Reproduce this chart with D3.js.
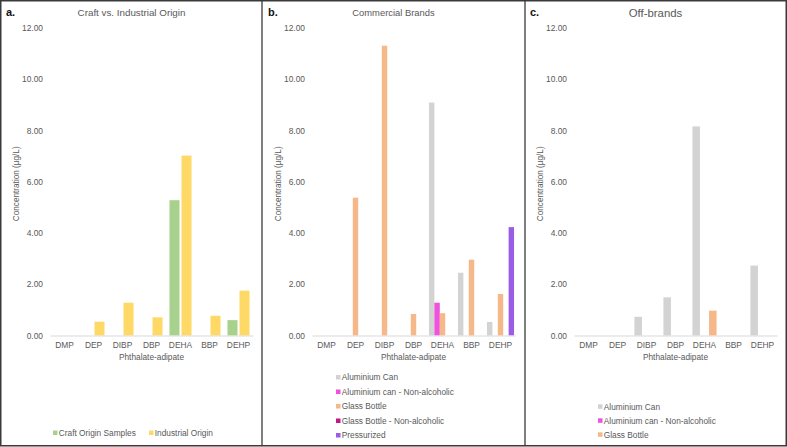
<!DOCTYPE html>
<html>
<head>
<meta charset="utf-8">
<script src="https://cdn.jsdelivr.net/npm/d3@7"></script>
<style>
  html, body { margin: 0; padding: 0; background: #fff; }
  svg { display: block; font-family: "Liberation Sans", Arial, sans-serif; }
</style>
</head>
<body>
<svg id="chart" width="787" height="447"></svg>
<script>
// ---- data ----
const categories = ["DMP", "DEP", "DIBP", "DBP", "DEHA", "BBP", "DEHP"];
const yTicks = [0, 2, 4, 6, 8, 10, 12];

// a. Craft vs. Industrial Origin
const craftOrigin      = [0, 0, 0, 0, 5.28, 0, 0.60];
const industrialOrigin = [0, 0.54, 1.28, 0.71, 7.02, 0.77, 1.75];

// b. Commercial Brands
const commAluminiumCan   = [0, 0, 0, 0, 9.09, 2.45, 0.53];
const commAluminiumCanNA = [0, 0, 0, 0, 1.28, 0, 0];
const commGlassBottle    = [0, 5.38, 11.31, 0.84, 0.87, 2.96, 1.62];
const commGlassBottleNA  = [0, 0, 0, 0, 0, 0, 0];
const commPressurized    = [0, 0, 0, 0, 0, 0, 4.23];

// c. Off-brands
const offAluminiumCan   = [0, 0, 0.73, 1.49, 8.16, 0, 2.73];
const offAluminiumCanNA = [0, 0, 0, 0, 0, 0, 0];
const offGlassBottle    = [0, 0, 0, 0, 0.97, 0, 0];

// ---- styles ----
const COL = {
  craft: "#a9d18e", industrial: "#ffd966",
  alu: "#d3d3d3", aluNA: "#ef52dc", glass: "#f6b889", glassNA: "#c2178c", press: "#9b5de5"
};

const panels = [
  {
    letter: "a.", title: "Craft vs. Industrial Origin", titleSize: 9.8, ox: 0,
    series: [
      { name: "Craft Origin Samples", values: craftOrigin, color: COL.craft },
      { name: "Industrial Origin", values: industrialOrigin, color: COL.industrial }
    ],
    padInner: 0.167, padOuter: 0.29,
    legend: { type: "row", y: 433, xs: [53, 149] }
  },
  {
    letter: "b.", title: "Commercial Brands", titleSize: 9.4, ox: 262,
    series: [
      { name: "Aluminium Can", values: commAluminiumCan, color: COL.alu },
      { name: "Aluminium can - Non-alcoholic", values: commAluminiumCanNA, color: COL.aluNA },
      { name: "Glass Bottle", values: commGlassBottle, color: COL.glass },
      { name: "Glass Bottle - Non-alcoholic", values: commGlassBottleNA, color: COL.glassNA },
      { name: "Pressurized", values: commPressurized, color: COL.press }
    ],
    padInner: 0.0, padOuter: 0.18,
    legend: { type: "col", x: 74, y0: 377.5, dy: 14.5 }
  },
  {
    letter: "c.", title: "Off-brands", titleSize: 11.4, ox: 524,
    series: [
      { name: "Aluminium Can", values: offAluminiumCan, color: COL.alu },
      { name: "Aluminium can - Non-alcoholic", values: offAluminiumCanNA, color: COL.aluNA },
      { name: "Glass Bottle", values: offGlassBottle, color: COL.glass }
    ],
    padInner: 0.094, padOuter: 0.29,
    legend: { type: "col", x: 74, y0: 406.8, dy: 14 }
  }
];

const svg = d3.select("#chart");
const TXT = "#595959";
const plotL = 50, plotR = 253, plotT = 28, plotB = 335.5;

const y = d3.scaleLinear().domain([0, 12]).range([plotB, plotT]);
const x = d3.scaleBand().domain(categories).range([plotL, plotR]).padding(0);

panels.forEach(p => {
  const g = svg.append("g").attr("transform", `translate(${p.ox},0)`);

  // letter + title
  g.append("text").attr("x", 6).attr("y", 16)
    .attr("font-size", 11).attr("font-weight", "bold").attr("fill", "#111").text(p.letter);
  g.append("text").attr("x", 131.5).attr("y", 13).attr("dy", "0.35em")
    .attr("text-anchor", "middle").attr("font-size", p.titleSize).attr("fill", TXT).text(p.title);

  // y axis
  const ya = g.append("g").attr("transform", `translate(${plotL},0)`)
    .call(d3.axisLeft(y).tickValues(yTicks).tickFormat(d3.format(".2f")).tickSize(0).tickPadding(7));
  ya.select(".domain").remove();
  ya.selectAll("text").attr("font-size", 8.4).attr("fill", TXT).attr("font-family", "Liberation Sans, Arial, sans-serif");

  // y title
  g.append("text")
    .attr("transform", `translate(16,${(plotT + plotB) / 2 + 2}) rotate(-90)`)
    .attr("text-anchor", "middle").attr("dy", "0.35em")
    .attr("font-size", 8.2).attr("fill", TXT).text("Concentration (µg/L)");

  // bars
  const inner = d3.scaleBand().domain(p.series.map((s, i) => i))
    .range([0, x.bandwidth()]).paddingInner(p.padInner).paddingOuter(p.padOuter);
  p.series.forEach((s, si) => {
    g.append("g").selectAll("rect").data(s.values.map((v, i) => ({ v, c: categories[i] })))
      .join("rect")
      .attr("x", d => x(d.c) + inner(si))
      .attr("width", inner.bandwidth())
      .attr("y", d => y(d.v))
      .attr("height", d => y(0) - y(d.v))
      .attr("fill", s.color);
  });

  // x axis
  const xa = g.append("g").attr("transform", `translate(0,${plotB})`)
    .call(d3.axisBottom(x).tickSize(0).tickPadding(6.5));
  xa.select(".domain").attr("stroke", "#d9d9d9").attr("stroke-width", 1);
  xa.selectAll("text").attr("font-size", 8.4).attr("fill", TXT).attr("font-family", "Liberation Sans, Arial, sans-serif");

  // x title
  g.append("text").attr("x", (plotL + plotR) / 2).attr("y", 357).attr("dy", "0.35em")
    .attr("text-anchor", "middle").attr("font-size", 8.3).attr("fill", TXT).text("Phthalate-adipate");

  // legend
  const L = p.legend;
  p.series.forEach((s, i) => {
    let lx, ly;
    if (L.type === "row") { lx = L.xs[i]; ly = L.y; }
    else { lx = L.x; ly = L.y0 + i * L.dy; }
    g.append("rect").attr("x", lx).attr("y", ly - 2.5).attr("width", 4.5).attr("height", 4.5).attr("fill", s.color);
    g.append("text").attr("x", lx + 5.8).attr("y", ly).attr("dy", "0.35em")
      .attr("font-size", 8.3).attr("fill", TXT).text(s.name);
  });
});

// frame
svg.append("rect").attr("x", 0.75).attr("y", 0.75).attr("width", 785.5).attr("height", 445)
  .attr("fill", "none").attr("stroke", "#3a3a3a").attr("stroke-width", 1.5);
[262, 525].forEach(xx => {
  svg.append("line").attr("x1", xx).attr("x2", xx).attr("y1", 0).attr("y2", 446)
    .attr("stroke", "#3a3a3a").attr("stroke-width", 1.3);
});
</script>
</body>
</html>
